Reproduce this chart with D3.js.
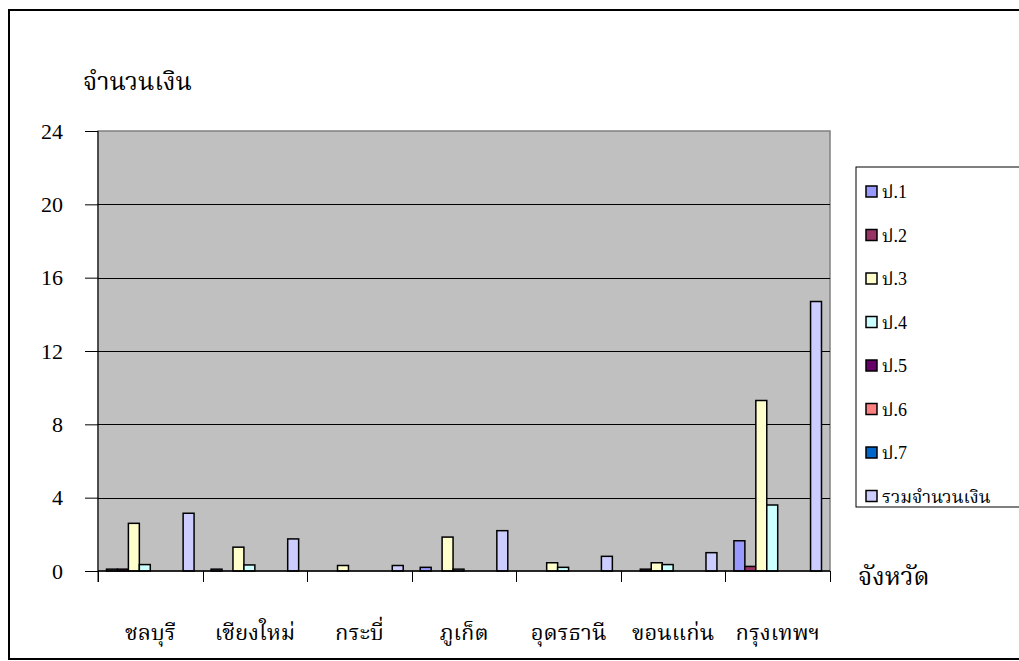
<!DOCTYPE html>
<html>
<head>
<meta charset="utf-8">
<script src="https://cdn.jsdelivr.net/npm/d3@7"></script>
<style>
  html, body { margin: 0; padding: 0; background: #fff; }
  svg { display: block; }
  text { font-family: "Liberation Serif", "Norasi", "Kinnari", "Noto Serif Thai", "Noto Sans Thai", serif; fill: #000; }
</style>
</head>
<body>
<svg id="chart" width="1019" height="661"></svg>
<script>
// ---- data ----
const categories = ["ชลบุรี", "เชียงใหม่", "กระบี่", "ภูเก็ต", "อุดรธานี", "ขอนแก่น", "กรุงเทพฯ"];
const seriesNames = ["ป.1", "ป.2", "ป.3", "ป.4", "ป.5", "ป.6", "ป.7", "รวมจำนวนเงิน"];
const p1    = [0.1, 0.1, 0,   0.2,  0,    0,    1.65];
const p2    = [0.1, 0,   0,   0,    0,    0.1,  0.25];
const p3    = [2.6, 1.3, 0.3, 1.85, 0.45, 0.45, 9.3];
const p4    = [0.35,0.33,0,   0.1,  0.2,  0.35, 3.6];
const p5    = [0,   0,   0,   0,    0,    0,    0];
const p6    = [0,   0,   0,   0,    0,    0,    0];
const p7    = [0,   0,   0,   0,    0,    0,    0];
const total = [3.15,1.75,0.3, 2.2,  0.8,  1.0,  14.7];
const yTicks = [0, 4, 8, 12, 16, 20, 24];
const yTitle = "จำนวนเงิน";
const xTitle = "จังหวัด";
const seriesColors = ["#9999FF", "#993366", "#FFFFCC", "#CCFFFF", "#660066", "#FF8080", "#0066CC", "#CCCCFF"];

const seriesValues = [p1, p2, p3, p4, p5, p6, p7, total];

// ---- layout ----
const svg = d3.select("#chart");
const plot = { left: 98, right: 830, top: 131, bottom: 571 };

// outer frame
svg.append("rect")
  .attr("x", 9).attr("y", 10).attr("width", 1030).attr("height", 649)
  .attr("fill", "none").attr("stroke", "#000").attr("stroke-width", 2);

const x = d3.scaleBand().domain(categories).range([plot.left, plot.right]).padding(0);
const gap = x.bandwidth() * 0.0813;
const xi = d3.scaleBand().domain(seriesNames).range([gap, x.bandwidth() - gap]).padding(0);
const y = d3.scaleLinear().domain([0, 24]).range([plot.bottom, plot.top]);

// plot background
svg.append("rect")
  .attr("x", plot.left).attr("y", plot.top)
  .attr("width", plot.right - plot.left).attr("height", plot.bottom - plot.top)
  .attr("fill", "#C0C0C0").attr("stroke", "#808080").attr("stroke-width", 1.5);

// gridlines
svg.append("g").selectAll("line")
  .data(yTicks.filter(d => d > 0 && d < 24))
  .join("line")
  .attr("x1", plot.left).attr("x2", plot.right)
  .attr("y1", d => Math.round(y(d)) + 0.5).attr("y2", d => Math.round(y(d)) + 0.5)
  .attr("stroke", "#000").attr("stroke-width", 1);

// bars
const groups = svg.append("g").selectAll("g")
  .data(categories)
  .join("g")
  .attr("transform", d => `translate(${x(d)},0)`);

groups.selectAll("rect")
  .data((c, ci) => seriesNames.map((s, si) => ({ s, si, v: seriesValues[si][ci] })).filter(d => d.v > 0))
  .join("rect")
  .attr("x", d => xi(d.s))
  .attr("y", d => y(d.v))
  .attr("width", xi.bandwidth())
  .attr("height", d => y(0) - y(d.v))
  .attr("fill", d => seriesColors[d.si])
  .attr("stroke", "#000").attr("stroke-width", 1.5);

// y axis
const yAxis = d3.axisLeft(y).tickValues(yTicks).tickSize(13).tickPadding(22).tickFormat(d3.format("d"));
const gy = svg.append("g").attr("transform", `translate(${plot.left},0)`).call(yAxis);
gy.select(".domain").remove();
gy.selectAll(".tick line").attr("stroke", "#000");
gy.selectAll(".tick text").attr("font-size", 22).attr("font-family", "Liberation Serif, serif");
svg.append("line")
  .attr("x1", plot.left).attr("x2", plot.left)
  .attr("y1", plot.top).attr("y2", plot.bottom + 11)
  .attr("stroke", "#000").attr("stroke-width", 1);

// x axis
const boundaries = categories.map(c => x(c)).concat([plot.right]);
svg.append("line")
  .attr("x1", plot.left).attr("x2", plot.right)
  .attr("y1", plot.bottom).attr("y2", plot.bottom)
  .attr("stroke", "#000").attr("stroke-width", 1.5);
svg.append("g").selectAll("line")
  .data(boundaries)
  .join("line")
  .attr("x1", d => Math.round(d) + 0.5).attr("x2", d => Math.round(d) + 0.5)
  .attr("y1", plot.bottom).attr("y2", plot.bottom + 11)
  .attr("stroke", "#000").attr("stroke-width", 1);

svg.append("g").selectAll("text")
  .data(categories)
  .join("text")
  .attr("x", d => x(d) + x.bandwidth() / 2)
  .attr("y", 640)
  .attr("text-anchor", "middle")
  .attr("font-size", 22)
  .text(d => d);

// titles
svg.append("text").attr("x", 83).attr("y", 90).attr("font-size", 25).text(yTitle);
svg.append("text").attr("x", 858).attr("y", 585).attr("font-size", 25).text(xTitle);

// legend
svg.append("rect")
  .attr("x", 856).attr("y", 167).attr("width", 200).attr("height", 340)
  .attr("fill", "#fff").attr("stroke", "#000").attr("stroke-width", 1);
const leg = svg.append("g").selectAll("g")
  .data(seriesNames)
  .join("g")
  .attr("transform", (d, i) => `translate(866, ${192 + i * 43.5})`);
leg.append("rect")
  .attr("x", 0).attr("y", -6).attr("width", 11).attr("height", 11)
  .attr("fill", (d, i) => seriesColors[i]).attr("stroke", "#000").attr("stroke-width", 1.5);
leg.append("text")
  .attr("x", 16).attr("y", 6)
  .attr("font-size", 18)
  .text(d => d);
</script>
</body>
</html>
